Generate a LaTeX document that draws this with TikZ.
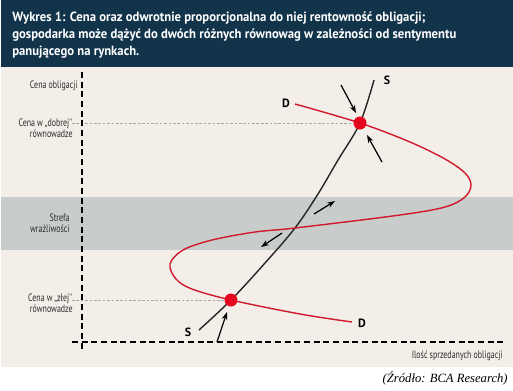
\documentclass[tikz,border=0pt]{standalone}
\usepackage{fontspec}
\setmainfont{Liberation Serif}
\newfontfamily\titlefont[FakeStretch=0.95]{PT Sans}
\newfontfamily\narrowfont[FakeStretch=0.74]{PT Sans}
\newfontfamily\curvefont{PT Sans}
\usetikzlibrary{arrows.meta}

\definecolor{headnavy}{HTML}{12344B}
\definecolor{paper}{HTML}{F3EFE8}
\definecolor{bandgrey}{HTML}{C8CCCB}
\definecolor{demandred}{HTML}{D01A2C}
\definecolor{dotred}{HTML}{E5061E}
\definecolor{labelgrey}{HTML}{2B2B2B}

\begin{document}
\begin{tikzpicture}[x=0.02cm, y=-0.02cm,
    axis/.style={black, line width=0.75pt, dash pattern=on 3.5pt off 2pt},
    guide/.style={black!35, line width=0.3pt, dash pattern=on 1.5pt off 1pt},
    supply/.style={black!85, line width=0.8pt},
    demand/.style={demandred, line width=0.8pt},
    push/.style={black, line width=0.7pt, -{Stealth[length=4.5pt, width=3.2pt]}},
    eqdot/.style={circle, fill=dotred, minimum size=0.26cm, inner sep=0pt},
    axlabel/.style={font=\narrowfont\fontsize{6.1}{6.5}\selectfont, text=labelgrey, align=right, anchor=east, inner sep=0pt},
    curvelabel/.style={font=\curvefont\bfseries\fontsize{6.8}{7}\selectfont, text=black, inner sep=0pt},
    title/.style={font=\titlefont\bfseries\fontsize{7.6}{8}\selectfont, text=white, anchor=base west, inner sep=0pt}
]
\useasboundingbox (0,0) rectangle (513,390);

% Backgrounds
\fill[headnavy] (1,0) rectangle (513,67);
\fill[paper] (1,67) rectangle (513,367);
\fill[bandgrey] (1,197) rectangle (513,250);

% Key points
\coordinate (good) at (360,123);
\coordinate (bad) at (231,300);
\coordinate (cross) at (295,228);
\coordinate (sbot) at (199,330);
\coordinate (stop) at (374,80);
\coordinate (dtop) at (295,104);
\coordinate (dbot) at (352,322);
\coordinate (goodaxis) at (72,123);
\coordinate (badaxis) at (72,300);

% Guides and axes
\draw[guide] (goodaxis) -- (good);
\draw[guide] (badaxis) -- (bad);
\draw[axis] (82,72) coordinate (ytop) -- (82,350) coordinate (ybot);
\draw[axis] (72,342) coordinate (xleft) -- (503,342) coordinate (xright);

% Supply and demand curves
\draw[supply] plot[smooth, tension=0.55] coordinates {(sbot) (bad) (265,263) (cross) (318,194) (338,160) (good) (stop)};
\draw[demand] plot[smooth, tension=0.55] coordinates {(dtop) (good) (410,142) (445,159) (465,173) (471,185) (465,197) (445,207) (400,215) (cross) (255,232) (212,240) (183,250) (170,264) (176,279) (192,289) (bad) (300,314) (dbot)};

% Pressure arrows
\coordinate (p1s) at (341,85);  \coordinate (p1e) at (356,113);
\coordinate (p2s) at (382,162); \coordinate (p2e) at (367,135);
\coordinate (p3s) at (314,214); \coordinate (p3e) at (335,201);
\coordinate (p4s) at (282,233); \coordinate (p4e) at (261,247);
\coordinate (p5s) at (217,342); \coordinate (p5e) at (227,312);
\draw[push] (p1s) -- (p1e);
\draw[push] (p2s) -- (p2e);
\draw[push] (p3s) -- (p3e);
\draw[push] (p4s) -- (p4e);
\draw[push] (p5s) -- (p5e);

% Equilibria
\node[eqdot] (gooddot) at (good) {};
\node[eqdot] (baddot) at (bad) {};

% Curve labels
\node[curvelabel] (slabtop) at (387,80) {S};
\node[curvelabel] (slabbot) at (188,332) {S};
\node[curvelabel] (dlabtop) at (286,103) {D};
\node[curvelabel] (dlabbot) at (362,323) {D};

% Axis labels
\node[axlabel] (yname) at (78,86) {Cena obligacji};
\node[axlabel] (goodname) at (73,128) {Cena w\,„dobrej''\\równowadze};
\node[axlabel] (bandname) at (70,223) {Strefa\\wrażliwości};
\node[axlabel] (badname) at (73,303) {Cena w\,„złej''\\równowadze};
\node[axlabel] (xname) at (503,356) {Ilość sprzedanych obligacji};

% Title and source
\node[title] (head1) at (12,21) {Wykres 1: Cena oraz odwrotnie proporcjonalna do niej rentowność obligacji;};
\node[title] (head2) at (12,38) {gospodarka może dążyć do dwóch różnych równowag w zależności od sentymentu};
\node[title] (head3) at (12,55) {panującego na rynkach.};
\node[font=\itshape\fontsize{7.2}{8}\selectfont, anchor=east, inner sep=0pt] (source) at (508,378) {(Źródło: BCA Research)};

\end{tikzpicture}
\end{document}
